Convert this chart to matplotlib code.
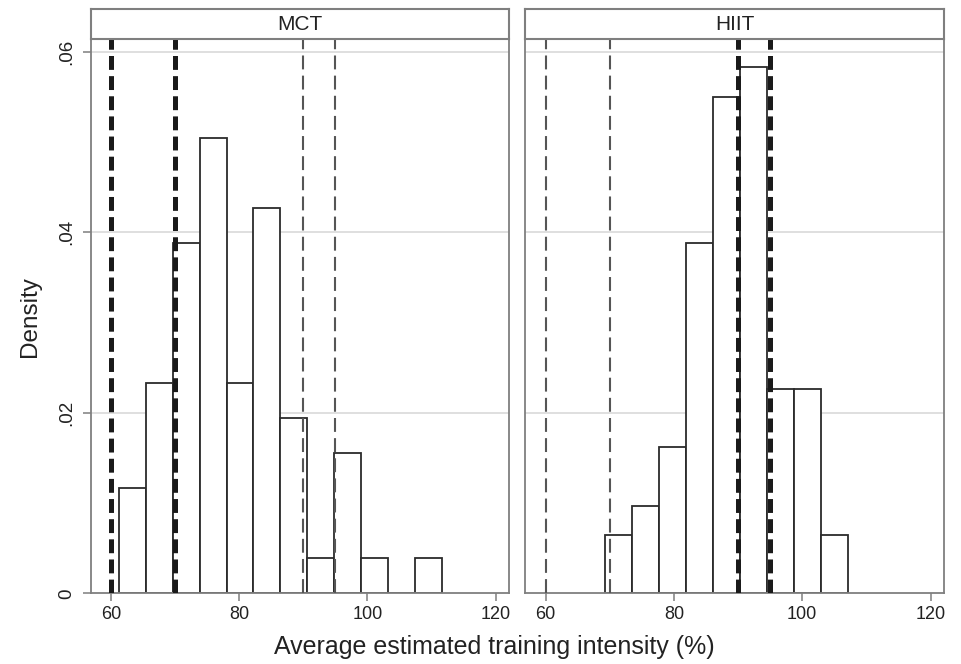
import matplotlib
matplotlib.use("Agg")
import matplotlib.pyplot as plt
import numpy as np

plt.rcParams["font.family"] = ["Liberation Sans", "DejaVu Sans"]
plt.rcParams["lines.scale_dashes"] = False

# histogram densities, bin width ~4.2
mct_start = 61.2
mct_density = [0.0117, 0.0233, 0.0388, 0.0504, 0.0233, 0.0427,
               0.0194, 0.0039, 0.0155, 0.0039, 0.0, 0.0039]
hiit_start = 69.3
hiit_density = [0.0065, 0.0097, 0.0162, 0.0388, 0.0550, 0.0583,
                0.0226, 0.0226, 0.0065]
bin_width = 4.2

# prescribed intensity ranges
mct_range = [60, 70]
hiit_range = [90, 95]

panels = ["MCT", "HIIT"]
xticks = [60, 80, 100, 120]
yticks = [0, 0.02, 0.04, 0.06]
yticklabels = ["0", ".02", ".04", ".06"]

frame_col = "#7f7f7f"
grid_col = "#dcdcdc"
text_col = "#222222"

fig = plt.figure(figsize=(9.61, 6.64), dpi=100)

boxes = [(0.0944, 0.1065, 0.4353, 0.8348), (0.5463, 0.1065, 0.4360, 0.8348)]
starts = [mct_start, hiit_start]
densities = [mct_density, hiit_density]
thick_lines = [mct_range, hiit_range]
thin_lines = [hiit_range, mct_range]

for i, name in enumerate(panels):
    x0, y0, w, h = boxes[i]
    ax = fig.add_axes([x0, y0, w, h])
    ax.set_xlim(56.8, 122.1)
    ax.set_ylim(0, 0.0614)

    for yv in yticks[1:]:
        ax.axhline(yv, color=grid_col, lw=1.3, zorder=0)

    edges = starts[i] + bin_width * np.arange(len(densities[i]))
    ax.bar(edges, densities[i], width=bin_width, align="edge",
           facecolor="white", edgecolor="#2b2b2b", linewidth=1.3, zorder=2)

    for xv in thin_lines[i]:
        ax.axvline(xv, color="#555555", lw=1.5, linestyle=(0, (10, 4.5)), zorder=3)
    for xv in thick_lines[i]:
        ax.axvline(xv, color="#1a1a1a", lw=3.6, linestyle=(0, (10, 4.5)), zorder=3)

    for side in ["left", "right", "bottom", "top"]:
        ax.spines[side].set_color(frame_col)
        ax.spines[side].set_linewidth(1.3)

    ax.set_xticks(xticks)
    ax.tick_params(axis="x", direction="out", length=6, width=1.1,
                   color=frame_col, labelsize=13, pad=3, labelcolor=text_col)
    if i == 0:
        ax.set_yticks(yticks)
        ax.set_yticklabels(yticklabels, rotation=90, va="center")
        ax.tick_params(axis="y", direction="out", length=6, width=1.1,
                       color=frame_col, labelsize=13.5, pad=5, labelcolor=text_col)
        ax.set_ylabel("Density", fontsize=17.5, color=text_col)
        ax.yaxis.set_label_coords(-0.12, 0.5)
    else:
        ax.set_yticks([])

    # panel title strip
    sax = fig.add_axes([x0, y0 + h, w, 0.0452])
    sax.set_xticks([])
    sax.set_yticks([])
    for side in ["left", "right", "bottom", "top"]:
        sax.spines[side].set_color(frame_col)
        sax.spines[side].set_linewidth(1.5)
    sax.text(0.5, 0.47, name, ha="center", va="center", fontsize=15,
             color=text_col, transform=sax.transAxes)

fig.text(0.514, 0.026, "Average estimated training intensity (%)",
         ha="center", va="center", fontsize=18, color=text_col)

fig.savefig("out.png", dpi=100)
